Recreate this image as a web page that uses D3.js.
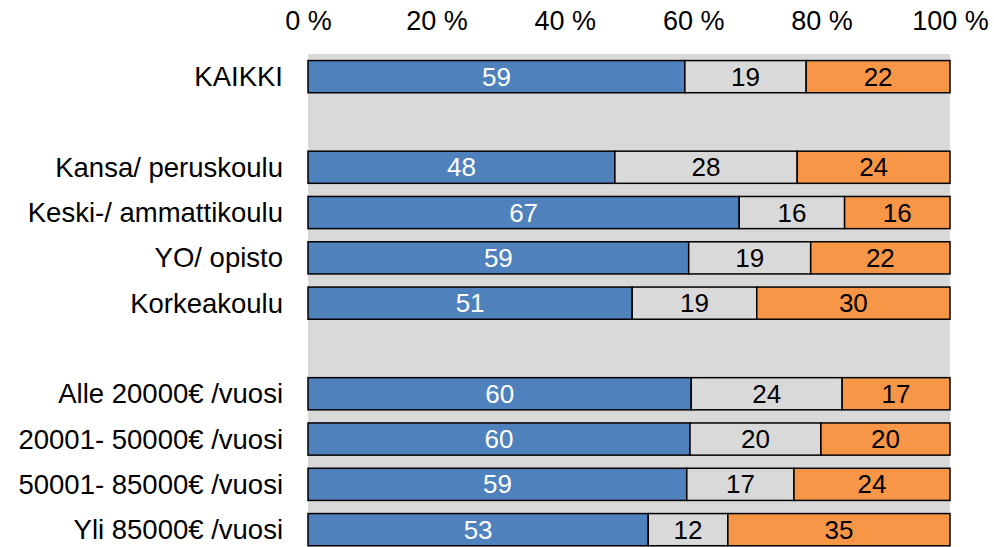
<!DOCTYPE html>
<html>
<head>
<meta charset="utf-8">
<script src="https://cdn.jsdelivr.net/npm/d3@7"></script>
<style>
  body { margin: 0; background: #fff; }
  text { font-family: "Liberation Sans", Arial, sans-serif; }
</style>
</head>
<body>
<div class="graphContainer"></div>
<script>
var categories = [
  "KAIKKI",
  "",
  "Kansa/ peruskoulu",
  "Keski-/ ammattikoulu",
  "YO/ opisto",
  "Korkeakoulu",
  "",
  "Alle 20000€ /vuosi",
  "20001- 50000€ /vuosi",
  "50001- 85000€ /vuosi",
  "Yli 85000€ /vuosi"
];
// blank rows are null
var blueValues = [58.7, null, 47.8, 67.1, 59.3, 50.5, null, 59.7, 59.5, 59.0, 53.0];
var grayValues = [18.9, null, 28.4, 16.4, 19.0, 19.4, null, 23.5, 20.4, 16.7, 12.4];
var orangeValues = [22.4, null, 23.8, 16.4, 21.7, 30.1, null, 16.8, 20.1, 24.3, 34.6];
var tickValues = [0, 20, 40, 60, 80, 100];

var width = 994;
var height = 547;

var svg = d3
  .select(".graphContainer")
  .append("svg")
  .attr("width", width)
  .attr("height", height);

var xScale = d3.scaleLinear().domain([0, 1]).range([308, 950]);

var yScale = d3
  .scaleBand()
  .domain(d3.range(categories.length))
  .range([54, 54 + 11 * 45.3])
  .paddingInner(0.29)
  .paddingOuter(0.145);

// plot background
svg
  .append("rect")
  .attr("x", xScale(0))
  .attr("y", yScale.range()[0])
  .attr("width", xScale(1) - xScale(0))
  .attr("height", yScale.range()[1] - yScale.range()[0])
  .style("fill", "#d9d9d9");

// x axis on top
var xAxis = d3
  .axisTop(d3.scaleLinear().domain([0, 100]).range(xScale.range()))
  .tickValues(tickValues)
  .tickSize(0)
  .tickPadding(0)
  .tickFormat((d) => d + " %");

var xAxisGroup = svg
  .append("g")
  .attr("transform", "translate(0,30)")
  .call(xAxis);
xAxisGroup.select(".domain").remove();
xAxisGroup
  .selectAll("text")
  .attr("dy", 0)
  .style("font-size", "27px")
  .style("font-family", "Liberation Sans, Arial, sans-serif")
  .style("fill", "#000");

// y labels
svg
  .selectAll(".ylabel")
  .data(categories)
  .enter()
  .append("text")
  .attr("class", "ylabel")
  .attr("x", 283)
  .attr("y", (d, i) => yScale(i) + yScale.bandwidth() / 2)
  .attr("dy", "0.35em")
  .attr("text-anchor", "end")
  .style("font-size", "27.5px")
  .text((d) => d);

// stacked bars
var rows = categories
  .map((c, i) => ({ i: i, blue: blueValues[i], gray: grayValues[i], orange: orangeValues[i] }))
  .filter((d) => d.blue != null);

var keys = ["blue", "gray", "orange"];
var colors = { blue: "#4f81bd", gray: "#d9d9d9", orange: "#f79646" };
var textColors = { blue: "#fff", gray: "#000", orange: "#000" };

var stacked = d3.stack().keys(keys).offset(d3.stackOffsetExpand)(rows);

var layers = svg
  .selectAll(".layer")
  .data(stacked)
  .enter()
  .append("g")
  .attr("class", "layer");

layers
  .selectAll("rect")
  .data((s) => s.map((p) => ({ key: s.key, p: p })))
  .enter()
  .append("rect")
  .attr("x", (d) => xScale(d.p[0]))
  .attr("y", (d) => yScale(d.p.data.i))
  .attr("width", (d) => xScale(d.p[1]) - xScale(d.p[0]))
  .attr("height", yScale.bandwidth())
  .style("fill", (d) => colors[d.key])
  .style("stroke", "#000")
  .style("stroke-width", 1.5);

layers
  .selectAll("text")
  .data((s) => s.map((p) => ({ key: s.key, p: p })))
  .enter()
  .append("text")
  .attr("x", (d) => (xScale(d.p[0]) + xScale(d.p[1])) / 2)
  .attr("y", (d) => yScale(d.p.data.i) + yScale.bandwidth() / 2)
  .attr("dy", "0.35em")
  .attr("text-anchor", "middle")
  .style("font-size", "26px")
  .style("fill", (d) => textColors[d.key])
  .text((d) => Math.round(d.p.data[d.key]));
</script>
</body>
</html>
